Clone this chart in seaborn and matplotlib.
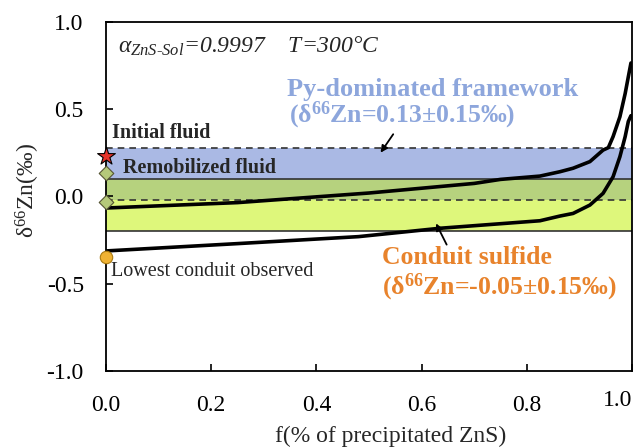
import numpy as np
import pandas as pd
import matplotlib
matplotlib.use("Agg")
import matplotlib.pyplot as plt
import matplotlib.transforms as mtransforms
import seaborn as sns

# ---- data ----
f_upper = [0.0, 0.25, 0.5, 0.7, 0.75, 0.825, 0.863, 0.888, 0.92, 0.945, 0.955, 0.964, 0.977, 0.987, 0.993, 0.998]
d_upper = [-0.066, -0.035, 0.02, 0.075, 0.098, 0.117, 0.142, 0.162, 0.20, 0.266, 0.28, 0.343, 0.457, 0.59, 0.686, 0.765]
f_lower = [0.0, 0.25, 0.48, 0.635, 0.825, 0.863, 0.888, 0.92, 0.945, 0.964, 0.977, 0.987, 0.993, 0.998]
d_lower = [-0.312, -0.27, -0.23, -0.182, -0.139, -0.112, -0.097, -0.049, 0.018, 0.113, 0.228, 0.343, 0.43, 0.463]

py_band = [-0.02, 0.28]        # 0.13 ± 0.15
conduit_band = [-0.20, 0.10]   # -0.05 ± 0.15
initial_fluid = 0.23
remob_fluid = [0.135, -0.03]
lowest_conduit = -0.345

x_ticks = [0.0, 0.2, 0.4, 0.6, 0.8, 1.0]
y_ticks = [-1.0, -0.5, 0.0, 0.5, 1.0]

sns.set_style("ticks")
plt.rcParams['font.family'] = ['Liberation Serif', 'DejaVu Serif']
plt.rcParams['mathtext.fontset'] = 'custom'
plt.rcParams['mathtext.rm'] = 'Liberation Serif'
plt.rcParams['mathtext.it'] = 'Liberation Serif:italic'
plt.rcParams['mathtext.bf'] = 'Liberation Serif:bold'

fig = plt.figure(figsize=(6.41, 4.48), dpi=100)
ax = fig.add_axes([106/641, 1-371/448, 526/641, 349/448])

blue = '#aab9e4'
green = '#b6d27e'
yellow = '#def77b'
ax.axhspan(py_band[1], conduit_band[1], color=blue, lw=0, zorder=0)
ax.axhspan(conduit_band[1], py_band[0], color=green, lw=0, zorder=0)
ax.axhspan(py_band[0], conduit_band[0], color=yellow, lw=0, zorder=0)
for yv in py_band:
    ax.axhline(yv, color='#333333', ls=(0, (4, 3)), lw=1.2, zorder=1)
for yv in conduit_band:
    ax.axhline(yv, color='#333333', ls='-', lw=1.2, zorder=1)

df_u = pd.DataFrame({'f': f_upper, 'd': d_upper})
df_l = pd.DataFrame({'f': f_lower, 'd': d_lower})
sns.lineplot(data=df_u, x='f', y='d', ax=ax, color='black', lw=2.6, sort=False, zorder=3)
sns.lineplot(data=df_l, x='f', y='d', ax=ax, color='black', lw=2.6, sort=False, zorder=3)

ax.scatter([0], [initial_fluid], marker='*', s=180, color='#e8332a', edgecolor='black', lw=0.8, zorder=6, clip_on=False)
ax.scatter([0, 0], remob_fluid, marker='D', s=55, color='#b5c97a', edgecolor='#555533', lw=0.8, zorder=6, clip_on=False)
ax.scatter([0], [lowest_conduit], marker='o', s=80, color='#efb233', edgecolor='#aa7a10', lw=0.8, zorder=6, clip_on=False)

ax.set_xlim(0, 1)
ax.set_ylim(-1, 1)
ax.set_xticks(x_ticks)
ax.set_yticks(y_ticks)
ax.set_xticklabels([f"{v:.1f}" for v in x_ticks])
ax.set_yticklabels([f"{v:.1f}" for v in y_ticks])
ax.tick_params(direction='in', length=5, width=1.2, labelsize=17, colors='black')
ax.tick_params(axis='x', pad=17)
ax.tick_params(axis='y', pad=16)
for s in ax.spines.values():
    s.set_visible(True)
    s.set_linewidth(1.3)
    s.set_color('black')
# last x tick label sits a bit left and higher (as in the reference)
lab = ax.get_xticklabels()[-1]
lab.set_transform(lab.get_transform() + mtransforms.ScaledTranslation(-0.14, 0.05, fig.dpi_scale_trans))

ax.set_xlabel('f(% of precipitated ZnS)', fontsize=17)
ax.xaxis.set_label_coords((391 - 106) / 526, -55 / 349)
ax.set_ylabel(r'$\mathregular{\delta^{66}Zn(‰)}$', fontsize=17)
ax.yaxis.set_label_coords(-64 / 526, 0.5 + 6 / 349)

ax.text(0.023, 0.86, r'$\alpha_{ZnS\text{-}Sol}$=0.9997    T=300°C', fontsize=17, style='italic',
        va='center', ha='left')
ax.text(0.344, 0.616, 'Py-dominated framework', fontsize=19, fontweight='bold', color='#8da6dc',
        va='center', ha='left')
ax.text(0.348, 0.467, r'(δ$^{\mathbf{66}}$Zn=0.13±0.15‰)', fontsize=18.5, fontweight='bold', color='#8da6dc',
        va='center', ha='left')
ax.text(0.011, 0.364, 'Initial fluid', fontsize=14.5, fontweight='bold', va='center', ha='left')
ax.text(0.032, 0.163, 'Remobilized fluid', fontsize=14.5, fontweight='bold', va='center', ha='left')
ax.text(0.009, -0.43, 'Lowest conduit observed', fontsize=14.5, va='center', ha='left')
ax.text(0.524, -0.35, 'Conduit sulfide', fontsize=18.5, fontweight='bold', color='#e8832c',
        va='center', ha='left')
ax.text(0.524, -0.52, r'(δ$^{\mathbf{66}}$Zn=-0.05±0.15‰)', fontsize=18.5, fontweight='bold', color='#e8832c',
        va='center', ha='left')

ax.annotate('', xy=(0.519, 0.238), xytext=(0.549, 0.37),
            arrowprops=dict(arrowstyle='-|>', color='black', lw=1.3, mutation_scale=10), zorder=5)
ax.annotate('', xy=(0.625, -0.14), xytext=(0.65, -0.29),
            arrowprops=dict(arrowstyle='-|>', color='black', lw=1.3, mutation_scale=10), zorder=5)

fig.savefig('out.png', dpi=100)
